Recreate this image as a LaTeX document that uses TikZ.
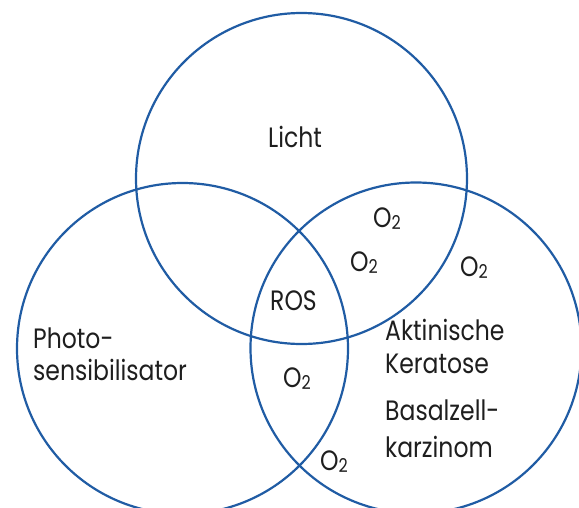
\documentclass[tikz,border=0pt]{standalone}
\usepackage{fontspec}
\setmainfont{Poppins}[FakeStretch=0.84]
\definecolor{ringblue}{RGB}{32,92,164}
\definecolor{txt}{RGB}{30,30,30}
\newcommand\oxy{O\raisebox{-2.5pt}{\fontsize{19}{19}\selectfont 2}}
\begin{document}
\begin{tikzpicture}[x=1pt,y=-1pt,
  ring/.style={circle,draw=ringblue,line width=2.2pt,minimum size=331pt,inner sep=0pt},
  lbl/.style={inner sep=0pt,anchor=base west,text=txt,font=\fontsize{28}{32}\selectfont},
  oxlbl/.style={lbl}]
\useasboundingbox (0,0) rectangle (579,507);
\node[ring] (licht) at (301.5,178.5) {};
\node[ring] (photo) at (182.5,348.5) {};
\node[ring] (haut) at (416,348) {};
\node[lbl] (tlicht) at (268,147) {Licht};
\node[lbl] (tphoto1) at (33,348) {Photo-};
\node[lbl] (tphoto2) at (33,380) {sensibilisator};
\node[lbl] (tros) at (270,310) {ROS};
\node[lbl] (tak1) at (385,340) {Aktinische};
\node[lbl] (tak2) at (385,373) {Keratose};
\node[lbl] (tbz1) at (385,420) {Basalzell-};
\node[lbl] (tbz2) at (385,457) {karzinom};
\node[oxlbl] (o1) at (373,227) {\oxy};
\node[oxlbl] (o2) at (350,271) {\oxy};
\node[oxlbl] (o3) at (460,276) {\oxy};
\node[oxlbl] (o4) at (283,387) {\oxy};
\node[oxlbl] (o5) at (320,470) {\oxy};
\end{tikzpicture}
\end{document}
